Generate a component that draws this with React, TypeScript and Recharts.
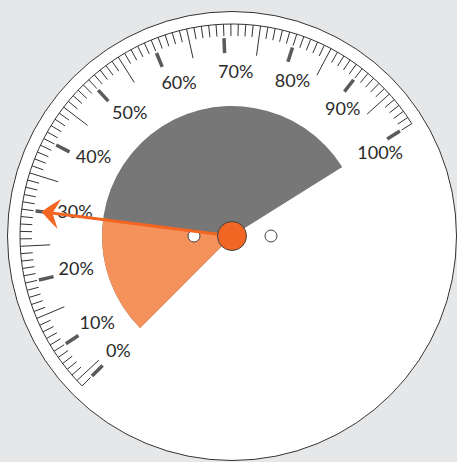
import React from 'react';
import { RadialBarChart, RadialBar, PolarAngleAxis, PolarRadiusAxis, Sector } from 'recharts';

// gauge data
const gaugeNames = ['Value'];
const needleValues = [30];
const scaleDomain = [4, 100];
const labelValues = [4, 10, 20, 30, 40, 50, 60, 70, 80, 90, 100];
const labelTexts = ['0%', '10%', '20%', '30%', '40%', '50%', '60%', '70%', '80%', '90%', '100%'];
const tickValues = Array.from({ length: scaleDomain[1] - scaleDomain[0] + 1 }, (_, i) => scaleDomain[0] + i);

const data = gaugeNames.map((name, i) => ({ name, value: needleValues[i] }));

const W = 457;
const H = 462;
const CX = 232;
const CY = 236;
const START = 225;
const END = 32;
const RAD = Math.PI / 180;

const pt = (r: number, a: number, cx = CX, cy = CY) => ({
  x: cx + r * Math.cos(-a * RAD),
  y: cy + r * Math.sin(-a * RAD),
});

const GaugeTick = (props: any) => {
  const { payload, index } = props;
  const v = payload.value;
  const a = payload.coordinate;
  const li = labelValues.indexOf(v);
  const isMajor = li >= 0;
  const isMid = !isMajor && v % 5 === 0;
  const p1 = pt(212, a);
  const p2 = pt(isMid ? 182 : 200, a);
  const s = pt(212, START);
  const e = pt(212, END);
  const m1 = pt(198, a);
  const m2 = pt(183, a);
  const lp = pt(165, a - 1.5);
  return (
    <g>
      {index === 0 && (
        <path d={`M${s.x},${s.y} A212,212 0 1 1 ${e.x},${e.y}`} fill="none" stroke="#333" strokeWidth={1} />
      )}
      <line x1={p1.x} y1={p1.y} x2={p2.x} y2={p2.y} stroke="#333" strokeWidth={1} />
      {isMajor && <line x1={m1.x} y1={m1.y} x2={m2.x} y2={m2.y} stroke="#5a5a5a" strokeWidth={3.5} />}
      {isMajor && (
        <text
          x={lp.x + 6}
          y={lp.y}
          textAnchor="middle"
          dominantBaseline="central"
          fontFamily="Lato, 'Open Sans', sans-serif"
          fontWeight={400}
          fontSize={18}
          fill="#2b2b2b"
        >
          {labelTexts[li]}
        </text>
      )}
    </g>
  );
};

const Needle = (props: any) => {
  const { cx, cy, endAngle } = props;
  const a = endAngle;
  const tip = pt(192, a, cx, cy);
  const u = { x: Math.cos(-a * RAD), y: Math.sin(-a * RAD) };
  const n = { x: -u.y, y: u.x };
  const at = (back: number, side: number) => ({
    x: tip.x - back * u.x + side * n.x,
    y: tip.y - back * u.y + side * n.y,
  });
  const b1 = at(18, 15);
  const b2 = at(18, -15);
  const c1 = at(10, 9);
  const c2 = at(10, -9);
  const notch = at(11, 0);
  const lineEnd = at(10, 0);
  return (
    <g>
      <circle cx={cx - 38} cy={cy} r={6} fill="#fff" stroke="#444" strokeWidth={1} />
      <circle cx={cx + 39} cy={cy} r={6} fill="#fff" stroke="#444" strokeWidth={1} />
      <line x1={cx} y1={cy} x2={lineEnd.x} y2={lineEnd.y} stroke="#f26522" strokeWidth={3} />
      <path
        d={`M${tip.x},${tip.y} Q${c1.x},${c1.y} ${b1.x},${b1.y} L${notch.x},${notch.y} L${b2.x},${b2.y} Q${c2.x},${c2.y} ${tip.x},${tip.y} Z`}
        fill="#f26522"
      />
      <circle cx={cx} cy={cy} r={14.5} fill="#f26522" stroke="#444" strokeWidth={1} />
    </g>
  );
};

const BandSector = (props: any) => <Sector {...props} fill="#f5915a" stroke="none" />;

const chartProps = {
  width: W,
  height: H,
  cx: CX,
  cy: CY,
  innerRadius: 0,
  outerRadius: 130,
  startAngle: START,
  endAngle: END,
  data,
  barCategoryGap: 0,
  margin: { top: 0, right: 0, bottom: 0, left: 0 },
};

export default function App() {
  return (
    <div style={{ position: 'absolute', left: 0, top: 0, width: W, height: H, background: '#e6e7e9', overflow: 'hidden' }}>
      <div
        style={{
          position: 'absolute',
          left: CX - 225,
          top: CY - 225,
          width: 450,
          height: 450,
          borderRadius: '50%',
          background: '#fff',
          border: '1px solid #333',
          boxSizing: 'border-box',
        }}
      />
      <div style={{ position: 'absolute', left: 0, top: 0 }}>
        <RadialBarChart {...chartProps}>
          <PolarAngleAxis type="number" domain={scaleDomain} ticks={tickValues} tick={GaugeTick} tickLine={false} axisLine={false} />
          <PolarRadiusAxis type="category" dataKey="name" tick={false} axisLine={false} />
          <RadialBar dataKey="value" background={{ fill: '#777777' }} shape={BandSector} isAnimationActive={false} />
        </RadialBarChart>
      </div>
      <div style={{ position: 'absolute', left: 0, top: 0 }}>
        <RadialBarChart {...chartProps}>
          <PolarAngleAxis type="number" domain={scaleDomain} tick={false} tickLine={false} axisLine={false} />
          <PolarRadiusAxis type="category" dataKey="name" tick={false} axisLine={false} />
          <RadialBar dataKey="value" shape={Needle} isAnimationActive={false} />
        </RadialBarChart>
      </div>
    </div>
  );
}
